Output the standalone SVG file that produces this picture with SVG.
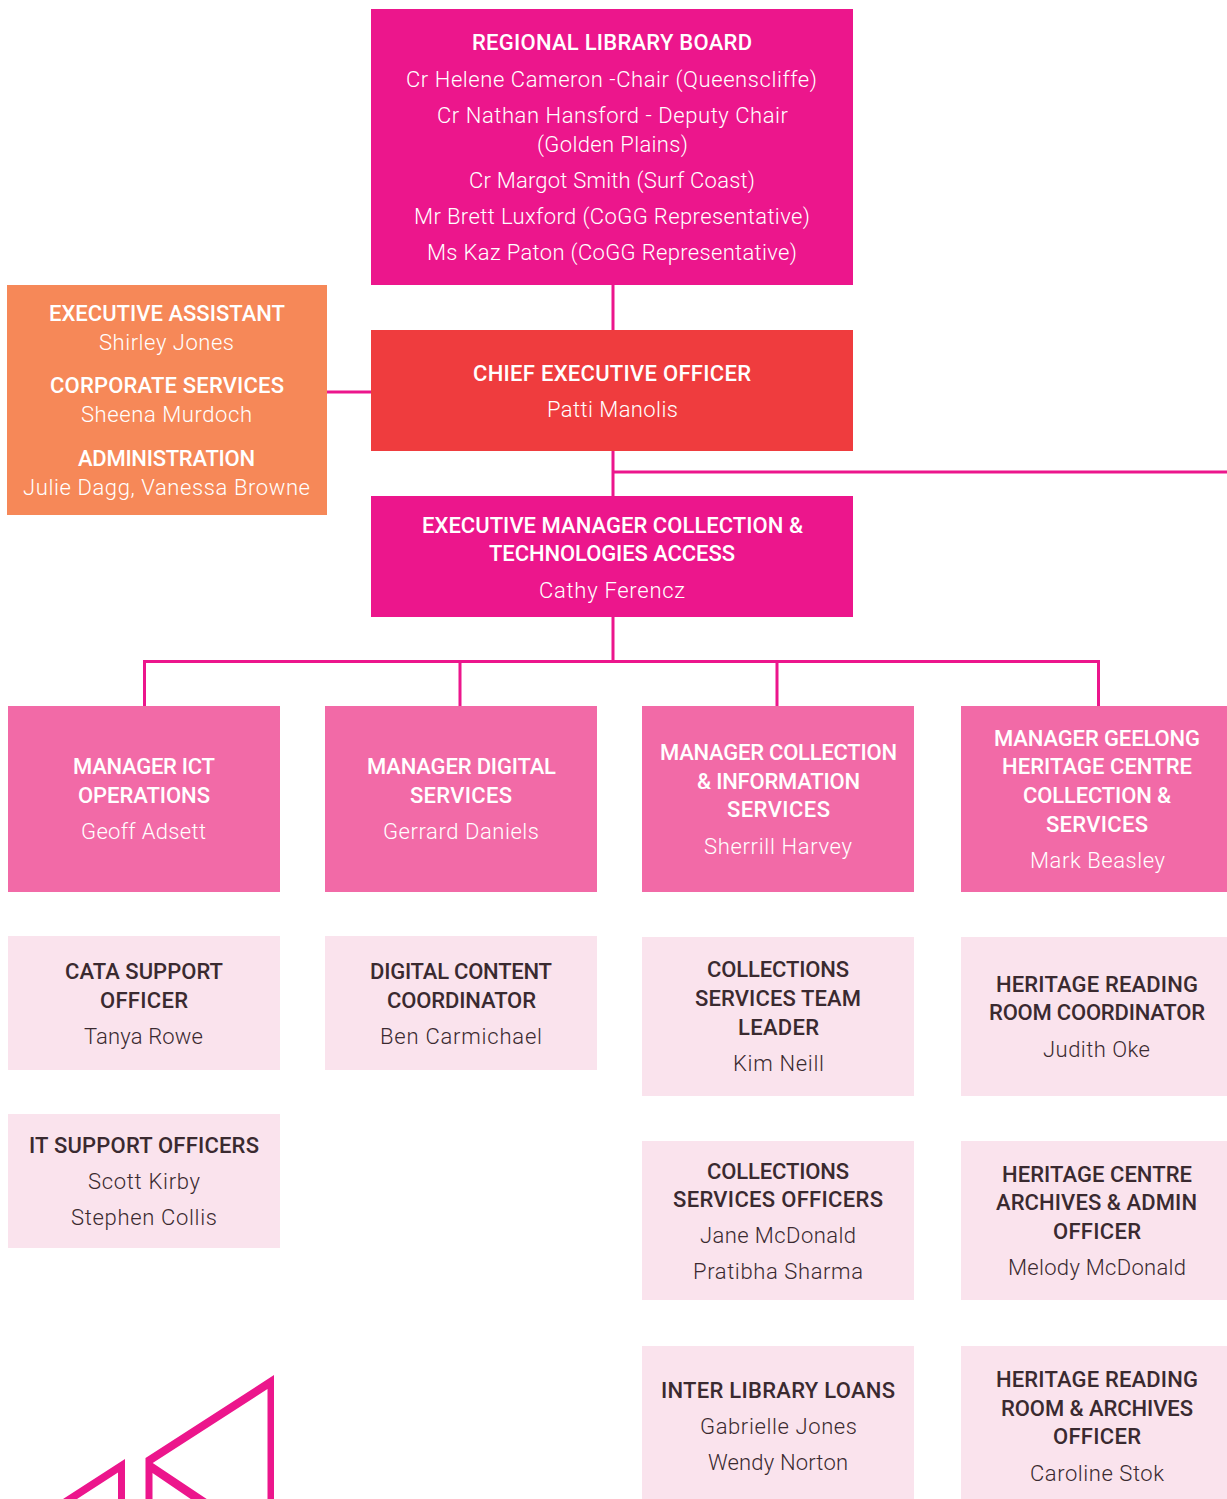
<svg xmlns="http://www.w3.org/2000/svg" width="1227" height="1499" viewBox="0 0 1227 1499">
<style>
text{font-family:"Roboto","Liberation Sans",sans-serif;font-size:22px;text-anchor:middle}
.h{font-weight:500}.n{font-weight:300}
.w{fill:#fff}.d{fill:#3a2a30}
.dk{fill:#ec168c}.rd{fill:#ef3c3e}.or{fill:#f68858}.md{fill:#f26aa7}.lt{fill:#fae3ed}
.c{fill:none;stroke:#ec168c;stroke-width:3}
.logo{fill:#ec168c}
</style>
<g id="connectors">
<path class="c" d="M613 285V330M327 392H371M613 451V496M613 472H1227M613 617V661M144.500 706V661.500H1098.500V706M460 661V706M777 661V706"/>
</g>
<g id="board"><rect class="dk" x="371" y="9" width="482" height="276"/>
<g class="w"><text class="h" x="612" y="50" textLength="280">REGIONAL LIBRARY BOARD</text><text class="n" x="611.500" y="87" textLength="411">Cr Helene Cameron -Chair (Queenscliffe)</text><text class="n" x="612.500" y="123" textLength="351">Cr Nathan Hansford - Deputy Chair</text><text class="n" x="612.500" y="152" textLength="151">(Golden Plains)</text><text class="n" x="612" y="188" textLength="286">Cr Margot Smith (Surf Coast)</text><text class="n" x="612" y="224" textLength="396">Mr Brett Luxford (CoGG Representative)</text><text class="n" x="612" y="260" textLength="370">Ms Kaz Paton (CoGG Representative)</text></g></g>
<g id="exec-assistant"><rect class="or" x="7" y="285" width="320" height="230"/>
<g class="w"><text class="h" x="167" y="321" textLength="236">EXECUTIVE ASSISTANT</text><text class="n" x="166.500" y="350" textLength="135">Shirley Jones</text><text class="h" x="167" y="393" textLength="234">CORPORATE SERVICES</text><text class="n" x="166.500" y="422" textLength="171">Sheena Murdoch</text><text class="h" x="166.500" y="466" textLength="177">ADMINISTRATION</text><text class="n" x="166.500" y="495" textLength="287">Julie Dagg, Vanessa Browne</text></g></g>
<g id="ceo"><rect class="rd" x="371" y="330" width="482" height="121"/>
<g class="w"><text class="h" x="612" y="381" textLength="278">CHIEF EXECUTIVE OFFICER</text><text class="n" x="612.500" y="417" textLength="131">Patti Manolis</text></g></g>
<g id="exec-manager"><rect class="dk" x="371" y="496" width="482" height="121"/>
<g class="w"><text class="h" x="612.500" y="533" textLength="381">EXECUTIVE MANAGER COLLECTION &amp;</text><text class="h" x="612" y="561" textLength="246">TECHNOLOGIES ACCESS</text><text class="n" x="612" y="598" textLength="146">Cathy Ferencz</text></g></g>
<g id="mgr-ict"><rect class="md" x="8" y="706" width="272" height="186"/>
<g class="w"><text class="h" x="144" y="774" textLength="142">MANAGER ICT</text><text class="h" x="144" y="803" textLength="132">OPERATIONS</text><text class="n" x="143.500" y="839" textLength="125">Geoff Adsett</text></g></g>
<g id="mgr-digital"><rect class="md" x="325" y="706" width="272" height="186"/>
<g class="w"><text class="h" x="461.500" y="774" textLength="189">MANAGER DIGITAL</text><text class="h" x="461" y="803" textLength="102">SERVICES</text><text class="n" x="461" y="839" textLength="156">Gerrard Daniels</text></g></g>
<g id="mgr-collection"><rect class="md" x="642" y="706" width="272" height="186"/>
<g class="w"><text class="h" x="778.500" y="760" textLength="237">MANAGER COLLECTION</text><text class="h" x="778.500" y="789" textLength="163">&amp; INFORMATION</text><text class="h" x="778.500" y="817" textLength="103">SERVICES</text><text class="n" x="778" y="854" textLength="148">Sherrill Harvey</text></g></g>
<g id="mgr-geelong"><rect class="md" x="961" y="706" width="266" height="186"/>
<g class="w"><text class="h" x="1097" y="746" textLength="206">MANAGER GEELONG</text><text class="h" x="1097" y="774" textLength="190">HERITAGE CENTRE</text><text class="h" x="1097" y="803" textLength="148">COLLECTION &amp;</text><text class="h" x="1097" y="832" textLength="102">SERVICES</text><text class="n" x="1097.500" y="868" textLength="135">Mark Beasley</text></g></g>
<g id="cata"><rect class="lt" x="8" y="936" width="272" height="134"/>
<g class="d"><text class="h" x="144" y="979" textLength="158">CATA SUPPORT</text><text class="h" x="144" y="1008" textLength="88">OFFICER</text><text class="n" x="143.500" y="1044" textLength="119">Tanya Rowe</text></g></g>
<g id="digital-content"><rect class="lt" x="325" y="936" width="272" height="134"/>
<g class="d"><text class="h" x="461" y="979" textLength="182">DIGITAL CONTENT</text><text class="h" x="461.500" y="1008" textLength="149">COORDINATOR</text><text class="n" x="461" y="1044" textLength="162">Ben Carmichael</text></g></g>
<g id="it-support"><rect class="lt" x="8" y="1114" width="272" height="134"/>
<g class="d"><text class="h" x="144" y="1153" textLength="230">IT SUPPORT OFFICERS</text><text class="n" x="144" y="1189" textLength="112">Scott Kirby</text><text class="n" x="144" y="1225" textLength="146">Stephen Collis</text></g></g>
<g id="coll-leader"><rect class="lt" x="642" y="937" width="272" height="159"/>
<g class="d"><text class="h" x="778" y="977" textLength="142">COLLECTIONS</text><text class="h" x="778" y="1006" textLength="166">SERVICES TEAM</text><text class="h" x="778.500" y="1035" textLength="81">LEADER</text><text class="n" x="778.500" y="1071" textLength="91">Kim Neill</text></g></g>
<g id="coll-officers"><rect class="lt" x="642" y="1141" width="272" height="159"/>
<g class="d"><text class="h" x="778" y="1179" textLength="142">COLLECTIONS</text><text class="h" x="778" y="1207" textLength="210">SERVICES OFFICERS</text><text class="n" x="778" y="1243" textLength="156">Jane McDonald</text><text class="n" x="778" y="1279" textLength="170">Pratibha Sharma</text></g></g>
<g id="ill"><rect class="lt" x="642" y="1346" width="272" height="153"/>
<g class="d"><text class="h" x="778" y="1398" textLength="234">INTER LIBRARY LOANS</text><text class="n" x="778.500" y="1434" textLength="157">Gabrielle Jones</text><text class="n" x="778" y="1470" textLength="140">Wendy Norton</text></g></g>
<g id="heritage-coord"><rect class="lt" x="961" y="937" width="266" height="159"/>
<g class="d"><text class="h" x="1097" y="992" textLength="202">HERITAGE READING</text><text class="h" x="1097" y="1020" textLength="216">ROOM COORDINATOR</text><text class="n" x="1096.500" y="1057" textLength="107">Judith Oke</text></g></g>
<g id="heritage-archives"><rect class="lt" x="961" y="1141" width="266" height="159"/>
<g class="d"><text class="h" x="1097" y="1182" textLength="190">HERITAGE CENTRE</text><text class="h" x="1096.500" y="1210" textLength="201">ARCHIVES &amp; ADMIN</text><text class="h" x="1097" y="1239" textLength="88">OFFICER</text><text class="n" x="1097" y="1275" textLength="178">Melody McDonald</text></g></g>
<g id="heritage-room"><rect class="lt" x="961" y="1346" width="266" height="153"/>
<g class="d"><text class="h" x="1097" y="1387" textLength="202">HERITAGE READING</text><text class="h" x="1097" y="1416" textLength="192">ROOM &amp; ARCHIVES</text><text class="h" x="1097" y="1444" textLength="88">OFFICER</text><text class="n" x="1097" y="1481" textLength="134">Caroline Stok</text></g></g>
<g id="logo"><path class="logo" d="M274 1375L145.500 1458V1499H152.500V1473L190.700 1499H206.700L152.700 1463L267.500 1389V1499H274Z"/><path class="logo" d="M125 1459L63 1499H77L118 1472.500V1499H125Z"/></g>
</svg>
